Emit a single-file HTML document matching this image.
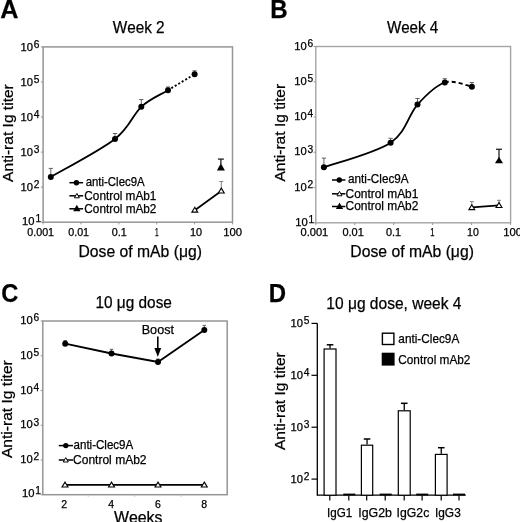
<!DOCTYPE html>
<html><head><meta charset="utf-8"><style>
html,body{margin:0;padding:0;background:#fff;}
svg{display:block;will-change:transform;}
text{font-family:"Liberation Sans",sans-serif;font-kerning:none;stroke:#000;stroke-width:0.25px;}
</style></head><body>
<svg width="520" height="522" viewBox="0 0 520 522">
<rect width="520" height="522" fill="#fff"/>
<text x="0.32" y="17.90" font-size="26" font-weight="bold" textLength="18.19" lengthAdjust="spacingAndGlyphs" fill="#000">A</text>
<text x="112.68" y="32.50" font-size="16.5" textLength="51.94" lengthAdjust="spacingAndGlyphs" fill="#000">Week 2</text>
<rect x="43.1" y="46.9" width="189.4" height="175.29999999999998" fill="none" stroke="#969696" stroke-width="1.5"/>
<line x1="40.90" y1="222.20" x2="43.10" y2="222.20" stroke="#969696" stroke-width="1"/>
<text x="22.14" y="225.00" font-size="10.4" textLength="12.49" lengthAdjust="spacingAndGlyphs">10</text>
<text x="35.39" y="221.90" font-size="10.2">1</text>
<line x1="40.90" y1="187.14" x2="43.10" y2="187.14" stroke="#969696" stroke-width="1"/>
<text x="20.54" y="190.94" font-size="10.4" textLength="12.49" lengthAdjust="spacingAndGlyphs">10</text>
<text x="33.79" y="187.84" font-size="10.2">2</text>
<line x1="40.90" y1="152.08" x2="43.10" y2="152.08" stroke="#969696" stroke-width="1"/>
<text x="20.54" y="155.88" font-size="10.4" textLength="12.49" lengthAdjust="spacingAndGlyphs">10</text>
<text x="33.79" y="152.78" font-size="10.2">3</text>
<line x1="40.90" y1="117.02" x2="43.10" y2="117.02" stroke="#969696" stroke-width="1"/>
<text x="20.54" y="120.82" font-size="10.4" textLength="12.49" lengthAdjust="spacingAndGlyphs">10</text>
<text x="33.79" y="117.72" font-size="10.2">4</text>
<line x1="40.90" y1="81.96" x2="43.10" y2="81.96" stroke="#969696" stroke-width="1"/>
<text x="20.54" y="85.76" font-size="10.4" textLength="12.49" lengthAdjust="spacingAndGlyphs">10</text>
<text x="33.79" y="82.66" font-size="10.2">5</text>
<line x1="40.90" y1="46.90" x2="43.10" y2="46.90" stroke="#969696" stroke-width="1"/>
<text x="20.54" y="50.70" font-size="10.4" textLength="12.49" lengthAdjust="spacingAndGlyphs">10</text>
<text x="33.79" y="47.60" font-size="10.2">6</text>
<line x1="43.10" y1="222.20" x2="43.10" y2="224.40" stroke="#969696" stroke-width="1"/>
<text x="27.33" y="235.60" font-size="10.2" textLength="26.74" lengthAdjust="spacingAndGlyphs" fill="#000">0.001</text>
<line x1="80.98" y1="222.20" x2="80.98" y2="224.40" stroke="#969696" stroke-width="1"/>
<text x="68.23" y="235.60" font-size="10.2" textLength="20.84" lengthAdjust="spacingAndGlyphs" fill="#000">0.01</text>
<line x1="118.86" y1="222.20" x2="118.86" y2="224.40" stroke="#969696" stroke-width="1"/>
<text x="111.73" y="235.60" font-size="10.2" textLength="14.94" lengthAdjust="spacingAndGlyphs" fill="#000">0.1</text>
<line x1="156.74" y1="222.20" x2="156.74" y2="224.40" stroke="#969696" stroke-width="1"/>
<text x="155.06" y="235.60" font-size="10.2" textLength="3.61" lengthAdjust="spacingAndGlyphs" fill="#000">1</text>
<line x1="194.62" y1="222.20" x2="194.62" y2="224.40" stroke="#969696" stroke-width="1"/>
<text x="189.92" y="235.60" font-size="10.2" textLength="12.05" lengthAdjust="spacingAndGlyphs" fill="#000">10</text>
<line x1="232.50" y1="222.20" x2="232.50" y2="224.40" stroke="#969696" stroke-width="1"/>
<text x="223.19" y="235.60" font-size="10.2" textLength="18.80" lengthAdjust="spacingAndGlyphs" fill="#000">100</text>
<text x="78.46" y="256.80" font-size="16.5" textLength="123.46" lengthAdjust="spacingAndGlyphs" fill="#000">Dose of mAb (μg)</text>
<text x="0" y="0" font-size="15.5" textLength="97.69" lengthAdjust="spacingAndGlyphs" transform="translate(12.50,181.88) rotate(-90)">Anti-rat Ig titer</text>
<line x1="50.80" y1="177.00" x2="50.80" y2="168.40" stroke="#555" stroke-width="0.9"/>
<line x1="48.65" y1="168.40" x2="52.95" y2="168.40" stroke="#555" stroke-width="0.9"/>
<line x1="115.00" y1="139.00" x2="115.00" y2="133.50" stroke="#555" stroke-width="0.9"/>
<line x1="112.85" y1="133.50" x2="117.15" y2="133.50" stroke="#555" stroke-width="0.9"/>
<line x1="141.30" y1="106.80" x2="141.30" y2="99.50" stroke="#555" stroke-width="0.9"/>
<line x1="139.15" y1="99.50" x2="143.45" y2="99.50" stroke="#555" stroke-width="0.9"/>
<line x1="168.00" y1="90.20" x2="168.00" y2="87.00" stroke="#555" stroke-width="0.9"/>
<line x1="165.85" y1="87.00" x2="170.15" y2="87.00" stroke="#555" stroke-width="0.9"/>
<line x1="194.60" y1="74.30" x2="194.60" y2="70.80" stroke="#555" stroke-width="0.9"/>
<line x1="192.45" y1="70.80" x2="196.75" y2="70.80" stroke="#555" stroke-width="0.9"/>
<path d="M50.80,177.00 C61.50,170.67 99.92,150.70 115.00,139.00 C130.08,127.30 132.47,114.93 141.30,106.80 C150.13,98.67 159.12,95.62 168.00,90.20" fill="none" stroke="#000" stroke-width="1.8"/>
<path d="M168.00,90.20 C176.88,84.78 190.17,76.95 194.60,74.30" fill="none" stroke="#000" stroke-width="1.9" stroke-dasharray="2,2"/>
<circle cx="50.80" cy="177.00" r="3.0" fill="#000"/>
<circle cx="115.00" cy="139.00" r="3.0" fill="#000"/>
<circle cx="141.30" cy="106.80" r="3.0" fill="#000"/>
<circle cx="168.00" cy="90.20" r="3.0" fill="#000"/>
<circle cx="194.60" cy="74.30" r="3.0" fill="#000"/>
<line x1="194.80" y1="210.20" x2="221.30" y2="191.00" stroke="#000" stroke-width="1.7"/>
<line x1="221.30" y1="188.00" x2="221.30" y2="181.50" stroke="#777" stroke-width="0.9"/>
<line x1="219.30" y1="181.50" x2="223.30" y2="181.50" stroke="#777" stroke-width="0.9"/>
<path d="M194.80,207.25 L197.75,212.15 L191.85,212.15 Z" fill="#fff" stroke="#000" stroke-width="1.1" stroke-linejoin="miter"/>
<path d="M221.30,188.15 L224.25,193.05 L218.35,193.05 Z" fill="#fff" stroke="#000" stroke-width="1.1" stroke-linejoin="miter"/>
<line x1="220.90" y1="164.00" x2="220.90" y2="159.10" stroke="#222" stroke-width="1.3"/>
<line x1="217.90" y1="159.10" x2="223.90" y2="159.10" stroke="#222" stroke-width="1.3"/>
<path d="M220.90,163.30 L224.90,170.50 L216.90,170.50 Z" fill="#000"/>
<line x1="69.40" y1="182.70" x2="83.10" y2="182.70" stroke="#000" stroke-width="1.5"/>
<circle cx="76.40" cy="182.70" r="2.7" fill="#000"/>
<text x="85.67" y="185.80" font-size="11.9" textLength="59.01" lengthAdjust="spacingAndGlyphs" fill="#000">anti-Clec9A</text>
<line x1="69.40" y1="195.80" x2="83.10" y2="195.80" stroke="#000" stroke-width="1.5"/>
<path d="M76.90,193.40 L79.40,197.80 L74.40,197.80 Z" fill="#fff" stroke="#000" stroke-width="1" stroke-linejoin="miter"/>
<text x="84.35" y="199.60" font-size="11.9" textLength="72.07" lengthAdjust="spacingAndGlyphs" fill="#000">Control mAb1</text>
<line x1="69.40" y1="208.80" x2="83.10" y2="208.80" stroke="#000" stroke-width="1.5"/>
<path d="M76.80,204.80 L80.45,211.20 L73.15,211.20 Z" fill="#000"/>
<text x="84.35" y="212.80" font-size="11.9" textLength="72.09" lengthAdjust="spacingAndGlyphs" fill="#000">Control mAb2</text>
<text x="270.34" y="17.60" font-size="26" font-weight="bold" textLength="17.41" lengthAdjust="spacingAndGlyphs" fill="#000">B</text>
<text x="386.88" y="32.50" font-size="16.5" textLength="51.41" lengthAdjust="spacingAndGlyphs" fill="#000">Week 4</text>
<rect x="315.8" y="46.5" width="194.8" height="176.3" fill="none" stroke="#a4a4a4" stroke-width="1.4"/>
<line x1="313.60" y1="222.80" x2="315.80" y2="222.80" stroke="#969696" stroke-width="1"/>
<text x="295.34" y="226.00" font-size="10.4" textLength="12.49" lengthAdjust="spacingAndGlyphs">10</text>
<text x="308.59" y="223.10" font-size="10.2">1</text>
<line x1="313.60" y1="187.54" x2="315.80" y2="187.54" stroke="#969696" stroke-width="1"/>
<text x="294.24" y="190.74" font-size="10.4" textLength="12.49" lengthAdjust="spacingAndGlyphs">10</text>
<text x="307.49" y="187.84" font-size="10.2">2</text>
<line x1="313.60" y1="152.28" x2="315.80" y2="152.28" stroke="#969696" stroke-width="1"/>
<text x="294.24" y="155.48" font-size="10.4" textLength="12.49" lengthAdjust="spacingAndGlyphs">10</text>
<text x="307.49" y="152.58" font-size="10.2">3</text>
<line x1="313.60" y1="117.02" x2="315.80" y2="117.02" stroke="#969696" stroke-width="1"/>
<text x="294.24" y="120.22" font-size="10.4" textLength="12.49" lengthAdjust="spacingAndGlyphs">10</text>
<text x="307.49" y="117.32" font-size="10.2">4</text>
<line x1="313.60" y1="81.76" x2="315.80" y2="81.76" stroke="#969696" stroke-width="1"/>
<text x="294.24" y="84.96" font-size="10.4" textLength="12.49" lengthAdjust="spacingAndGlyphs">10</text>
<text x="307.49" y="82.06" font-size="10.2">5</text>
<line x1="313.60" y1="46.50" x2="315.80" y2="46.50" stroke="#969696" stroke-width="1"/>
<text x="294.24" y="49.70" font-size="10.4" textLength="12.49" lengthAdjust="spacingAndGlyphs">10</text>
<text x="307.49" y="46.80" font-size="10.2">6</text>
<line x1="315.80" y1="222.80" x2="315.80" y2="225.00" stroke="#969696" stroke-width="1"/>
<text x="300.52" y="235.80" font-size="10.2" textLength="27.67" lengthAdjust="spacingAndGlyphs" fill="#000">0.001</text>
<line x1="354.76" y1="222.80" x2="354.76" y2="225.00" stroke="#969696" stroke-width="1"/>
<text x="342.42" y="235.80" font-size="10.2" textLength="21.36" lengthAdjust="spacingAndGlyphs" fill="#000">0.01</text>
<line x1="393.72" y1="222.80" x2="393.72" y2="225.00" stroke="#969696" stroke-width="1"/>
<text x="385.92" y="235.80" font-size="10.2" textLength="15.16" lengthAdjust="spacingAndGlyphs" fill="#000">0.1</text>
<line x1="432.68" y1="222.80" x2="432.68" y2="225.00" stroke="#969696" stroke-width="1"/>
<text x="430.27" y="235.80" font-size="10.2" textLength="4.26" lengthAdjust="spacingAndGlyphs" fill="#000">1</text>
<line x1="471.64" y1="222.80" x2="471.64" y2="225.00" stroke="#969696" stroke-width="1"/>
<text x="467.04" y="235.80" font-size="10.2" textLength="11.77" lengthAdjust="spacingAndGlyphs" fill="#000">10</text>
<line x1="510.60" y1="222.80" x2="510.60" y2="225.00" stroke="#969696" stroke-width="1"/>
<text x="503.24" y="235.80" font-size="10.2" textLength="18.74" lengthAdjust="spacingAndGlyphs" fill="#000">100</text>
<text x="350.36" y="256.80" font-size="16.5" textLength="123.57" lengthAdjust="spacingAndGlyphs" fill="#000">Dose of mAb (μg)</text>
<text x="0" y="0" font-size="15.5" textLength="97.69" lengthAdjust="spacingAndGlyphs" transform="translate(285.00,181.58) rotate(-90)">Anti-rat Ig titer</text>
<line x1="323.90" y1="167.30" x2="323.90" y2="158.10" stroke="#555" stroke-width="0.9"/>
<line x1="321.75" y1="158.10" x2="326.05" y2="158.10" stroke="#555" stroke-width="0.9"/>
<line x1="390.60" y1="142.70" x2="390.60" y2="138.30" stroke="#555" stroke-width="0.9"/>
<line x1="388.45" y1="138.30" x2="392.75" y2="138.30" stroke="#555" stroke-width="0.9"/>
<line x1="417.50" y1="104.60" x2="417.50" y2="98.50" stroke="#555" stroke-width="0.9"/>
<line x1="415.35" y1="98.50" x2="419.65" y2="98.50" stroke="#555" stroke-width="0.9"/>
<line x1="444.80" y1="82.50" x2="444.80" y2="78.70" stroke="#555" stroke-width="0.9"/>
<line x1="442.65" y1="78.70" x2="446.95" y2="78.70" stroke="#555" stroke-width="0.9"/>
<line x1="471.90" y1="86.70" x2="471.90" y2="82.50" stroke="#555" stroke-width="0.9"/>
<line x1="469.75" y1="82.50" x2="474.05" y2="82.50" stroke="#555" stroke-width="0.9"/>
<path d="M323.90,167.30 C335.02,163.20 375.00,153.15 390.60,142.70 C406.20,132.25 408.47,114.63 417.50,104.60 C426.53,94.57 435.73,85.48 444.80,82.50" fill="none" stroke="#000" stroke-width="1.8"/>
<path d="M444.80,82.50 C453.87,79.52 467.38,86.00 471.90,86.70" fill="none" stroke="#000" stroke-width="1.9" stroke-dasharray="4,3"/>
<circle cx="323.90" cy="167.30" r="3.0" fill="#000"/>
<circle cx="390.60" cy="142.70" r="3.0" fill="#000"/>
<circle cx="417.50" cy="104.60" r="3.0" fill="#000"/>
<circle cx="444.80" cy="82.50" r="3.0" fill="#000"/>
<circle cx="471.90" cy="86.70" r="3.0" fill="#000"/>
<line x1="471.80" y1="207.40" x2="499.00" y2="205.30" stroke="#000" stroke-width="1.7"/>
<line x1="471.80" y1="205.00" x2="471.80" y2="201.60" stroke="#777" stroke-width="0.9"/>
<line x1="469.80" y1="201.60" x2="473.80" y2="201.60" stroke="#777" stroke-width="0.9"/>
<line x1="499.00" y1="203.00" x2="499.00" y2="200.30" stroke="#777" stroke-width="0.9"/>
<line x1="497.00" y1="200.30" x2="501.00" y2="200.30" stroke="#777" stroke-width="0.9"/>
<path d="M471.80,204.75 L474.75,209.65 L468.85,209.65 Z" fill="#fff" stroke="#000" stroke-width="1.1" stroke-linejoin="miter"/>
<path d="M499.00,202.55 L501.95,207.45 L496.05,207.45 Z" fill="#fff" stroke="#000" stroke-width="1.1" stroke-linejoin="miter"/>
<line x1="499.00" y1="158.00" x2="499.00" y2="149.30" stroke="#222" stroke-width="1.3"/>
<line x1="496.00" y1="149.30" x2="502.00" y2="149.30" stroke="#222" stroke-width="1.3"/>
<path d="M499.00,156.75 L503.00,163.25 L495.00,163.25 Z" fill="#000"/>
<line x1="332.00" y1="180.00" x2="345.40" y2="180.00" stroke="#000" stroke-width="1.5"/>
<circle cx="339.30" cy="180.00" r="2.7" fill="#000"/>
<text x="348.05" y="183.20" font-size="11.9" textLength="60.52" lengthAdjust="spacingAndGlyphs" fill="#000">anti-Clec9A</text>
<line x1="332.00" y1="193.80" x2="345.40" y2="193.80" stroke="#000" stroke-width="1.5"/>
<path d="M339.50,191.40 L342.00,195.80 L337.00,195.80 Z" fill="#fff" stroke="#000" stroke-width="1" stroke-linejoin="miter"/>
<text x="345.55" y="197.60" font-size="11.9" textLength="72.79" lengthAdjust="spacingAndGlyphs" fill="#000">Control mAb1</text>
<line x1="332.00" y1="206.50" x2="345.40" y2="206.50" stroke="#000" stroke-width="1.5"/>
<path d="M339.50,202.50 L343.15,208.90 L335.85,208.90 Z" fill="#000"/>
<text x="345.55" y="210.40" font-size="11.9" textLength="72.80" lengthAdjust="spacingAndGlyphs" fill="#000">Control mAb2</text>
<text x="1.28" y="302.00" font-size="26" font-weight="bold" textLength="17.12" lengthAdjust="spacingAndGlyphs" fill="#000">C</text>
<text x="95.48" y="307.70" font-size="16.5" textLength="76.46" lengthAdjust="spacingAndGlyphs" fill="#000">10 μg dose</text>
<rect x="42.8" y="321" width="184.39999999999998" height="173.7" fill="none" stroke="#969696" stroke-width="1.5"/>
<line x1="40.60" y1="494.70" x2="42.80" y2="494.70" stroke="#969696" stroke-width="1"/>
<text x="21.94" y="497.10" font-size="10.4" textLength="12.49" lengthAdjust="spacingAndGlyphs">10</text>
<text x="35.19" y="494.20" font-size="10.2">1</text>
<line x1="40.60" y1="459.96" x2="42.80" y2="459.96" stroke="#969696" stroke-width="1"/>
<text x="20.24" y="463.16" font-size="10.4" textLength="12.49" lengthAdjust="spacingAndGlyphs">10</text>
<text x="33.49" y="460.26" font-size="10.2">2</text>
<line x1="40.60" y1="425.22" x2="42.80" y2="425.22" stroke="#969696" stroke-width="1"/>
<text x="20.24" y="428.42" font-size="10.4" textLength="12.49" lengthAdjust="spacingAndGlyphs">10</text>
<text x="33.49" y="425.52" font-size="10.2">3</text>
<line x1="40.60" y1="390.48" x2="42.80" y2="390.48" stroke="#969696" stroke-width="1"/>
<text x="20.24" y="393.68" font-size="10.4" textLength="12.49" lengthAdjust="spacingAndGlyphs">10</text>
<text x="33.49" y="390.78" font-size="10.2">4</text>
<line x1="40.60" y1="355.74" x2="42.80" y2="355.74" stroke="#969696" stroke-width="1"/>
<text x="20.24" y="358.94" font-size="10.4" textLength="12.49" lengthAdjust="spacingAndGlyphs">10</text>
<text x="33.49" y="356.04" font-size="10.2">5</text>
<line x1="40.60" y1="321.00" x2="42.80" y2="321.00" stroke="#969696" stroke-width="1"/>
<text x="20.24" y="324.20" font-size="10.4" textLength="12.49" lengthAdjust="spacingAndGlyphs">10</text>
<text x="33.49" y="321.30" font-size="10.2">6</text>
<line x1="88.20" y1="494.70" x2="88.20" y2="496.70" stroke="#bbb" stroke-width="1"/>
<line x1="134.60" y1="494.70" x2="134.60" y2="496.70" stroke="#bbb" stroke-width="1"/>
<line x1="181.00" y1="494.70" x2="181.00" y2="496.70" stroke="#bbb" stroke-width="1"/>
<text x="61.28" y="508.00" font-size="10.5" textLength="5.84" lengthAdjust="spacingAndGlyphs" fill="#000">2</text>
<text x="108.31" y="508.00" font-size="10.5" textLength="5.84" lengthAdjust="spacingAndGlyphs" fill="#000">4</text>
<text x="155.04" y="508.00" font-size="10.5" textLength="5.84" lengthAdjust="spacingAndGlyphs" fill="#000">6</text>
<text x="201.28" y="508.00" font-size="10.5" textLength="5.84" lengthAdjust="spacingAndGlyphs" fill="#000">8</text>
<text x="113.88" y="522.60" font-size="16.5" textLength="48.65" lengthAdjust="spacingAndGlyphs" fill="#000">Weeks</text>
<text x="0" y="0" font-size="15.5" textLength="97.89" lengthAdjust="spacingAndGlyphs" transform="translate(12.40,458.08) rotate(-90)">Anti-rat Ig titer</text>
<line x1="65.20" y1="343.70" x2="65.20" y2="340.50" stroke="#555" stroke-width="0.9"/>
<line x1="63.45" y1="340.50" x2="66.95" y2="340.50" stroke="#555" stroke-width="0.9"/>
<line x1="111.50" y1="353.50" x2="111.50" y2="349.30" stroke="#555" stroke-width="0.9"/>
<line x1="109.75" y1="349.30" x2="113.25" y2="349.30" stroke="#555" stroke-width="0.9"/>
<line x1="158.00" y1="362.00" x2="158.00" y2="359.00" stroke="#555" stroke-width="0.9"/>
<line x1="156.25" y1="359.00" x2="159.75" y2="359.00" stroke="#555" stroke-width="0.9"/>
<line x1="204.30" y1="330.00" x2="204.30" y2="325.40" stroke="#555" stroke-width="0.9"/>
<line x1="202.55" y1="325.40" x2="206.05" y2="325.40" stroke="#555" stroke-width="0.9"/>
<path d="M65.2,343.7 L111.5,353.5 L158,362 L204.3,330" fill="none" stroke="#000" stroke-width="1.8"/>
<circle cx="65.20" cy="343.70" r="3.0" fill="#000"/>
<circle cx="111.50" cy="353.50" r="3.0" fill="#000"/>
<circle cx="158.00" cy="362.00" r="3.0" fill="#000"/>
<circle cx="204.30" cy="330.00" r="3.0" fill="#000"/>
<line x1="65.00" y1="484.80" x2="204.30" y2="484.80" stroke="#000" stroke-width="1.7"/>
<path d="M65.00,482.15 L67.95,487.05 L62.05,487.05 Z" fill="#fff" stroke="#000" stroke-width="1.1" stroke-linejoin="miter"/>
<path d="M111.50,482.15 L114.45,487.05 L108.55,487.05 Z" fill="#fff" stroke="#000" stroke-width="1.1" stroke-linejoin="miter"/>
<path d="M158.00,482.15 L160.95,487.05 L155.05,487.05 Z" fill="#fff" stroke="#000" stroke-width="1.1" stroke-linejoin="miter"/>
<path d="M204.30,482.15 L207.25,487.05 L201.35,487.05 Z" fill="#fff" stroke="#000" stroke-width="1.1" stroke-linejoin="miter"/>
<text x="141.72" y="334.20" font-size="12.5" textLength="32.23" lengthAdjust="spacingAndGlyphs" fill="#000">Boost</text>
<line x1="157.80" y1="336.60" x2="157.80" y2="349.00" stroke="#000" stroke-width="1.6"/>
<path d="M154.4,348 L161.2,348 L157.8,357 Z" fill="#000"/>
<line x1="58.80" y1="445.60" x2="73.00" y2="445.60" stroke="#000" stroke-width="1.5"/>
<circle cx="65.80" cy="445.60" r="2.7" fill="#000"/>
<text x="73.56" y="448.80" font-size="11.9" textLength="59.71" lengthAdjust="spacingAndGlyphs" fill="#000">anti-Clec9A</text>
<line x1="58.80" y1="460.00" x2="73.00" y2="460.00" stroke="#000" stroke-width="1.5"/>
<path d="M65.80,457.60 L68.30,462.00 L63.30,462.00 Z" fill="#fff" stroke="#000" stroke-width="1" stroke-linejoin="miter"/>
<text x="73.04" y="463.60" font-size="11.9" textLength="73.52" lengthAdjust="spacingAndGlyphs" fill="#000">Control mAb2</text>
<text x="268.85" y="302.00" font-size="26" font-weight="bold" textLength="17.31" lengthAdjust="spacingAndGlyphs" fill="#000">D</text>
<text x="326.37" y="308.50" font-size="16.5" textLength="135.04" lengthAdjust="spacingAndGlyphs" fill="#000">10 μg dose, week 4</text>
<line x1="317.30" y1="323.30" x2="317.30" y2="495.80" stroke="#000" stroke-width="1.3"/>
<line x1="317.30" y1="495.20" x2="465.80" y2="495.20" stroke="#000" stroke-width="1.3"/>
<line x1="311.50" y1="323.40" x2="317.30" y2="323.40" stroke="#000" stroke-width="1.2"/>
<text x="290.54" y="327.10" font-size="10.4" textLength="12.49" lengthAdjust="spacingAndGlyphs">10</text>
<text x="303.79" y="324.40" font-size="10.2">5</text>
<line x1="311.50" y1="375.30" x2="317.30" y2="375.30" stroke="#000" stroke-width="1.2"/>
<text x="290.54" y="379.00" font-size="10.4" textLength="12.49" lengthAdjust="spacingAndGlyphs">10</text>
<text x="303.79" y="376.30" font-size="10.2">4</text>
<line x1="311.50" y1="427.20" x2="317.30" y2="427.20" stroke="#000" stroke-width="1.2"/>
<text x="290.54" y="430.90" font-size="10.4" textLength="12.49" lengthAdjust="spacingAndGlyphs">10</text>
<text x="303.79" y="428.20" font-size="10.2">3</text>
<line x1="311.50" y1="479.10" x2="317.30" y2="479.10" stroke="#000" stroke-width="1.2"/>
<text x="290.54" y="482.80" font-size="10.4" textLength="12.49" lengthAdjust="spacingAndGlyphs">10</text>
<text x="303.79" y="480.10" font-size="10.2">2</text>
<line x1="329.80" y1="495.20" x2="329.80" y2="500.50" stroke="#000" stroke-width="1.2"/>
<line x1="348.80" y1="495.20" x2="348.80" y2="500.50" stroke="#000" stroke-width="1.2"/>
<line x1="366.70" y1="495.20" x2="366.70" y2="500.50" stroke="#000" stroke-width="1.2"/>
<line x1="385.20" y1="495.20" x2="385.20" y2="500.50" stroke="#000" stroke-width="1.2"/>
<line x1="404.20" y1="495.20" x2="404.20" y2="500.50" stroke="#000" stroke-width="1.2"/>
<line x1="422.10" y1="495.20" x2="422.10" y2="500.50" stroke="#000" stroke-width="1.2"/>
<line x1="441.20" y1="495.20" x2="441.20" y2="500.50" stroke="#000" stroke-width="1.2"/>
<line x1="459.00" y1="495.20" x2="459.00" y2="500.50" stroke="#000" stroke-width="1.2"/>
<line x1="330.05" y1="348.40" x2="330.05" y2="344.80" stroke="#000" stroke-width="1.3"/>
<line x1="326.75" y1="344.80" x2="333.35" y2="344.80" stroke="#000" stroke-width="1.5"/>
<rect x="324.10" y="349.00" width="11.90" height="146.20" fill="#fff" stroke="#000" stroke-width="1.2"/>
<line x1="367.05" y1="444.60" x2="367.05" y2="439.00" stroke="#000" stroke-width="1.3"/>
<line x1="363.75" y1="439.00" x2="370.35" y2="439.00" stroke="#000" stroke-width="1.5"/>
<rect x="361.40" y="445.20" width="11.30" height="50.00" fill="#fff" stroke="#000" stroke-width="1.2"/>
<line x1="404.25" y1="410.20" x2="404.25" y2="403.30" stroke="#000" stroke-width="1.3"/>
<line x1="400.95" y1="403.30" x2="407.55" y2="403.30" stroke="#000" stroke-width="1.5"/>
<rect x="398.30" y="410.80" width="11.90" height="84.40" fill="#fff" stroke="#000" stroke-width="1.2"/>
<line x1="441.25" y1="453.80" x2="441.25" y2="447.70" stroke="#000" stroke-width="1.3"/>
<line x1="437.95" y1="447.70" x2="444.55" y2="447.70" stroke="#000" stroke-width="1.5"/>
<rect x="435.40" y="454.40" width="11.70" height="40.80" fill="#fff" stroke="#000" stroke-width="1.2"/>
<rect x="343.30" y="493.6" width="12" height="1.8" fill="#000"/>
<rect x="379.70" y="493.6" width="12" height="1.8" fill="#000"/>
<rect x="416.20" y="493.6" width="12" height="1.8" fill="#000"/>
<rect x="453.00" y="493.6" width="12" height="1.8" fill="#000"/>
<text x="327.08" y="516.60" font-size="13" textLength="25.24" lengthAdjust="spacingAndGlyphs" fill="#000">IgG1</text>
<text x="358.31" y="516.60" font-size="13" textLength="33.66" lengthAdjust="spacingAndGlyphs" fill="#000">IgG2b</text>
<text x="396.62" y="516.60" font-size="13" textLength="32.65" lengthAdjust="spacingAndGlyphs" fill="#000">IgG2c</text>
<text x="434.95" y="516.60" font-size="13" textLength="25.82" lengthAdjust="spacingAndGlyphs" fill="#000">IgG3</text>
<text x="0" y="0" font-size="15.5" textLength="97.89" lengthAdjust="spacingAndGlyphs" transform="translate(285.20,450.08) rotate(-90)">Anti-rat Ig titer</text>
<rect x="382.4" y="333.2" width="11.5" height="11.3" fill="#fff" stroke="#000" stroke-width="1.4"/>
<rect x="381.7" y="352.7" width="12.9" height="12.9" fill="#000"/>
<text x="398.35" y="342.50" font-size="12.2" textLength="60.92" lengthAdjust="spacingAndGlyphs" fill="#000">anti-Clec9A</text>
<text x="398.25" y="363.80" font-size="12.2" textLength="72.19" lengthAdjust="spacingAndGlyphs" fill="#000">Control mAb2</text>
</svg>
</body></html>
